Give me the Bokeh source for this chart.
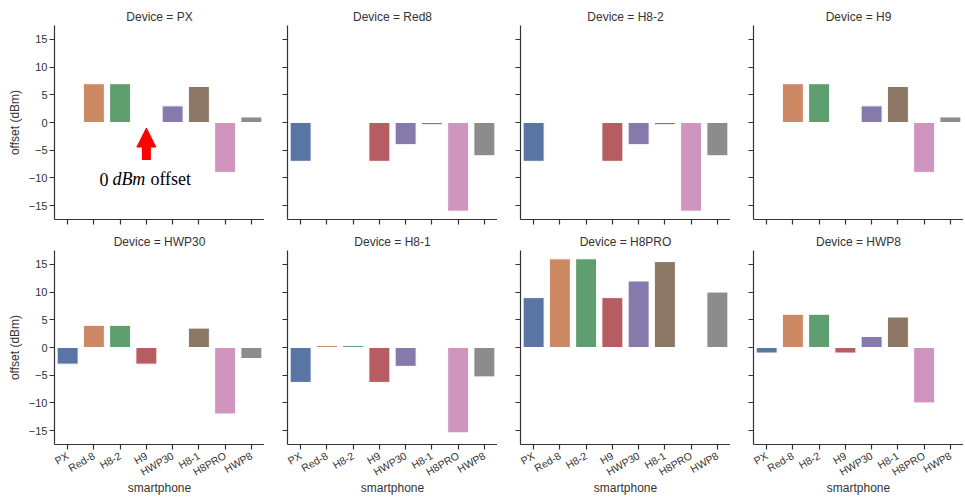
import math
from bokeh.plotting import figure
from bokeh.layouts import column, row
from bokeh.models import (FixedTicker, Arrow, NormalHead, Label, ColumnDataSource,
                          CustomJSTickFormatter)
from bokeh.embed import file_html
from bokeh.resources import INLINE

phones = ["PX", "Red-8", "H8-2", "H9", "HWP30", "H8-1", "H8PRO", "HWP8"]
devices = ["PX", "Red8", "H8-2", "H9", "HWP30", "H8-1", "H8PRO", "HWP8"]

off_PX = [0, 7, 7, 0, 3, 6.5, -9, 1]
off_Red8 = [-7, 0, 0, -7, -4, -0.4, -16, -6]
off_H8_2 = [-7, 0, 0, -7, -4, -0.4, -16, -6]
off_H9 = [0, 7, 7, 0, 3, 6.5, -9, 1]
off_HWP30 = [-3, 4, 4, -3, 0, 3.5, -12, -2]
off_H8_1 = [-6.3, 0.35, 0.35, -6.3, -3.4, 0, -15.4, -5.3]
off_H8PRO = [9, 16, 16, 9, 12, 15.5, 0, 10]
off_HWP8 = [-1, 6, 6, -1, 2, 5.5, -10, 0]

series = [off_PX, off_Red8, off_H8_2, off_H9, off_HWP30, off_H8_1, off_H8PRO, off_HWP8]

colors = ["#5875A3", "#CC8963", "#5F9E6E", "#B55D60", "#857AAB", "#8D7866", "#D095BF", "#8C8C8C"]
y_ticks = [-15, -10, -5, 0, 5, 10, 15]

FONT = "Liberation Sans"
INK = "#333333"


def make_panel(i, dev, vals):
    r, c = divmod(i, 4)
    p = figure(x_range=phones, y_range=(-17.5, 17.5), frame_width=210, frame_height=194,
               output_backend="svg", toolbar_location=None,
               min_border_left=54 if c == 0 else 23, min_border_right=0,
               min_border_top=25, min_border_bottom=6 if r == 0 else 40,
               title=f"Device = {dev}")
    p.title.align = "center"
    p.title.text_font = FONT
    p.title.text_font_size = "12px"
    p.title.text_font_style = "normal"
    p.title.text_color = INK
    p.title.standoff = 4
    p.outline_line_color = None
    p.xgrid.grid_line_color = None
    p.ygrid.grid_line_color = None
    p.background_fill_color = "white"
    p.border_fill_color = "white"

    src = ColumnDataSource(dict(x=phones, top=vals, color=colors))
    p.vbar(x="x", top="top", bottom=0, width=0.8, fill_color="color",
           line_color="white", line_width=1, source=src)

    for ax in (p.xaxis[0], p.yaxis[0]):
        ax.axis_line_color = INK
        ax.axis_line_width = 1.2
        ax.major_tick_line_color = INK
        ax.major_tick_line_width = 1.2
        ax.major_tick_out = 5
        ax.major_tick_in = 0
        ax.minor_tick_line_color = None
        ax.major_label_text_font = FONT
        ax.major_label_text_color = INK
        ax.major_label_text_font_size = "11px"
        ax.axis_label_text_font = FONT
        ax.axis_label_text_color = INK
        ax.axis_label_text_font_size = "12px"
        ax.axis_label_text_font_style = "normal"

    p.yaxis.ticker = FixedTicker(ticks=y_ticks)
    p.yaxis.major_label_standoff = 2
    if c == 0:
        p.yaxis.major_label_overrides = {t: ("\u2212" + str(-t) if t < 0 else str(t)) for t in y_ticks}
        p.yaxis.axis_label = "offset (dBm)"
        p.yaxis.axis_label_standoff = 4
    else:
        p.yaxis.major_label_overrides = {t: "" for t in y_ticks}
        p.yaxis.major_label_standoff = 0

    if r == 1:
        p.xaxis.axis_label = "smartphone"
        p.xaxis.major_label_orientation = math.pi / 6
        p.xaxis.major_label_text_font_size = "10.5px"
        p.xaxis.major_label_standoff = 5
        p.xaxis.axis_label_standoff = -5
    else:
        p.xaxis.formatter = CustomJSTickFormatter(code="return ''")
        p.xaxis.major_label_standoff = 0

    if i == 0:
        p.add_layout(Arrow(end=NormalHead(size=19, fill_color="red", line_color="red"),
                           x_start=3.5, y_start=-6.75, x_end=3.5, y_end=-1.0,
                           line_color="red", line_width=9))
        for txt, dx, style in (("0", -47, "normal"), ("dBm", -34, "italic"), ("offset", 4, "normal")):
            p.add_layout(Label(x=3.5, y=-10.25, x_offset=dx, text=txt,
                               text_font="Liberation Serif", text_font_size="18px",
                               text_font_style=style, text_color="black",
                               text_align="left", text_baseline="alphabetic"))
    return p


panels = [make_panel(i, d, v) for i, (d, v) in enumerate(zip(devices, series))]
layout = column(row(*panels[:4]), row(*panels[4:]))

open("out.html", "w").write(file_html(layout, INLINE))
